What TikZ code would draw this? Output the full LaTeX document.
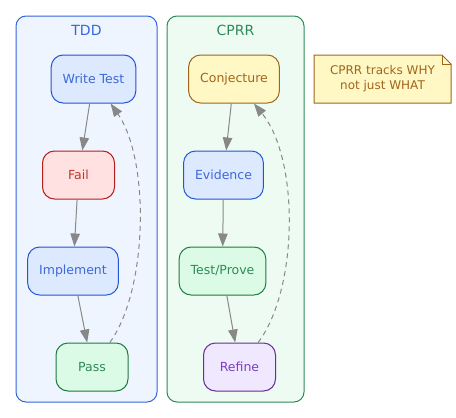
\documentclass[tikz,border=0pt]{standalone}
\usepackage{fontspec}
\setmainfont{DejaVu Sans}
\usetikzlibrary{arrows.meta}

\definecolor{tddline}{HTML}{3366DD}
\definecolor{tddfill}{HTML}{EFF5FF}
\definecolor{cprrline}{HTML}{2E8B57}
\definecolor{cprrfill}{HTML}{EEFBF2}
\definecolor{blueline}{HTML}{2255D4}
\definecolor{bluefill}{HTML}{DCE9FF}
\definecolor{bluetext}{HTML}{3D68D8}
\definecolor{redline}{HTML}{B91C1C}
\definecolor{redfill}{HTML}{FFE1E1}
\definecolor{redtext}{HTML}{C0392B}
\definecolor{greenline}{HTML}{1E7A3E}
\definecolor{greenfill}{HTML}{DCFBE6}
\definecolor{greentext}{HTML}{2E8B57}
\definecolor{yellowline}{HTML}{A0661A}
\definecolor{yellowfill}{HTML}{FFF7C4}
\definecolor{yellowtext}{HTML}{A0661A}
\definecolor{purpleline}{HTML}{6B2A9E}
\definecolor{purplefill}{HTML}{EFE8FF}
\definecolor{purpletext}{HTML}{7E3FC4}
\definecolor{edgegray}{HTML}{888888}

\tikzset{
    stage/.style={draw, rounded corners=12pt, line width=1pt, minimum width=72pt,
        minimum height=48pt, inner xsep=11.5pt, font=\fontsize{12.5}{15}\selectfont},
    bluestage/.style={stage, draw=blueline, fill=bluefill, text=bluetext},
    redstage/.style={stage, draw=redline, fill=redfill, text=redtext},
    greenstage/.style={stage, draw=greenline, fill=greenfill, text=greentext},
    yellowstage/.style={stage, draw=yellowline, fill=yellowfill, text=yellowtext},
    purplestage/.style={stage, draw=purpleline, fill=purplefill, text=purpletext},
    cluster/.style={rounded corners=10pt, line width=1pt},
    clustertitle/.style={font=\fontsize{14}{16}\selectfont},
    flow/.style={draw=edgegray, line width=1pt, -{Triangle[length=13pt,width=9.5pt]}},
    loopback/.style={flow, dash pattern=on 5pt off 4pt},
}

\begin{document}
\begin{tikzpicture}[x=1pt, y=-1pt]
    \useasboundingbox (0,0) rectangle (456,418);

    \draw [cluster, draw=tddline, fill=tddfill] (16,16) rectangle (157,402);
    \node [clustertitle, text=tddline] (tddtitle) at (86.5,30) {TDD};
    \draw [cluster, draw=cprrline, fill=cprrfill] (167,16) rectangle (304,402);
    \node [clustertitle, text=cprrline] (cprrtitle) at (235.5,30) {CPRR};

    \node [bluestage] (writetest) at (93.5,79) {Write Test};
    \node [redstage] (fail) at (78.5,175) {Fail};
    \node [bluestage] (implement) at (73,271) {Implement};
    \node [greenstage] (pass) at (92,367) {Pass};

    \node [yellowstage] (conjecture) at (234,79) {Conjecture};
    \node [bluestage] (evidence) at (223.5,175) {Evidence};
    \node [greenstage] (testprove) at (222.5,271) {Test/Prove};
    \node [purplestage] (refine) at (239.5,367) {Refine};

    \draw [flow] (writetest) -- (fail);
    \draw [flow] (fail) -- (implement);
    \draw [flow] (implement) -- (pass);
    \draw [loopback] (pass) .. controls (148,290) and (150,160) .. (writetest);

    \draw [flow] (conjecture) -- (evidence);
    \draw [flow] (evidence) -- (testprove);
    \draw [flow] (testprove) -- (refine);
    \draw [loopback] (refine) .. controls (298,290) and (300,160) .. (conjecture);

    \draw [line width=1pt, draw=yellowline, fill=yellowfill]
        (314,55) -- (442,55) -- (451,64) -- (451,103) -- (314,103) -- cycle;
    \draw [line width=1pt, draw=yellowline] (442,55) -- (442,64) -- (451,64);
    \node [align=center, text=yellowtext, font=\fontsize{12}{15}\selectfont] (note)
        at (382.5,79) {CPRR tracks WHY\\not just WHAT};
\end{tikzpicture}
\end{document}
